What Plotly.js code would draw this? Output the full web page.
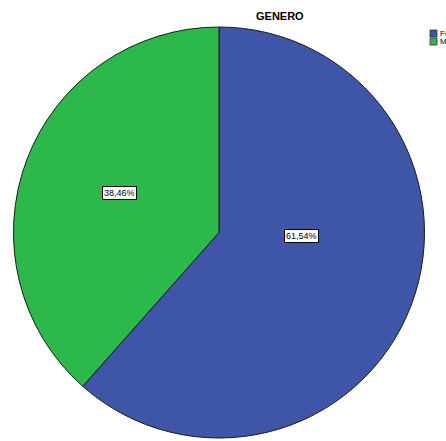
<!DOCTYPE html>
<html>
<head>
<meta charset="utf-8">
<script src="https://cdn.plot.ly/plotly-3.0.1.min.js"></script>
<style>html,body{margin:0;padding:0;background:#fff;overflow:hidden}#chart{width:446px;height:441px}</style>
</head>
<body>
<div id="chart"></div>
<script>
const categories = ["Femenino", "Masculino"];
const counts = [8, 5];
const percentLabels = ["61,54%", "38,46%"];
const colors = ["#3F55A8", "#2DB84B"];

const W = 446, H = 441;
const px = v => v / W;
const py = v => 1 - v / H;

const trace = {
  type: "pie",
  labels: categories,
  values: counts,
  sort: false,
  direction: "clockwise",
  rotation: 0,
  textinfo: "none",
  hoverinfo: "label+percent",
  showlegend: false,
  marker: { colors: colors, line: { color: "#1a1a1a", width: 1 } },
  domain: { x: [px(13), px(425)], y: [py(438), py(27)] }
};

// label positions (SPSS style placement inside slices)
const labelPos = [
  { x: px(301.5), y: py(236.5) },
  { x: px(119.5), y: py(193.5) }
];

const font = "Arial, 'Liberation Sans', sans-serif";

const annotations = percentLabels.map((t, i) => ({
  text: t,
  x: labelPos[i].x, y: labelPos[i].y,
  xref: "paper", yref: "paper",
  xanchor: "center", yanchor: "middle",
  showarrow: false,
  font: { family: font, size: 9, color: "#000" },
  bgcolor: "#ffffff",
  bordercolor: "#000000",
  borderwidth: 1,
  borderpad: 1
}));

annotations.push({
  text: "<b>GENERO</b>",
  x: px(280), y: py(16),
  xref: "paper", yref: "paper",
  xanchor: "center", yanchor: "middle",
  showarrow: false,
  font: { family: font, size: 11, color: "#000" }
});

// manual legend (SPSS style, cut at the window edge)
const shapes = [];
categories.forEach((c, i) => {
  const top = 30 + i * 8;
  shapes.push({
    type: "rect", xref: "paper", yref: "paper",
    x0: px(430), x1: px(437), y0: py(top + 7), y1: py(top),
    fillcolor: colors[i], line: { color: "#333", width: 0.8 }
  });
  annotations.push({
    text: c, xref: "paper", yref: "paper",
    x: px(438), y: py(top + 3.5), xanchor: "left", yanchor: "middle",
    showarrow: false,
    font: { family: font, size: 8, color: "#000" }
  });
});

const layout = {
  width: W, height: H,
  margin: { l: 0, r: 0, t: 0, b: 0, autoexpand: false },
  paper_bgcolor: "#fff",
  showlegend: false,
  annotations: annotations,
  shapes: shapes
};

Plotly.newPlot("chart", [trace], layout, { displayModeBar: false, staticPlot: true });
</script>
</body>
</html>
